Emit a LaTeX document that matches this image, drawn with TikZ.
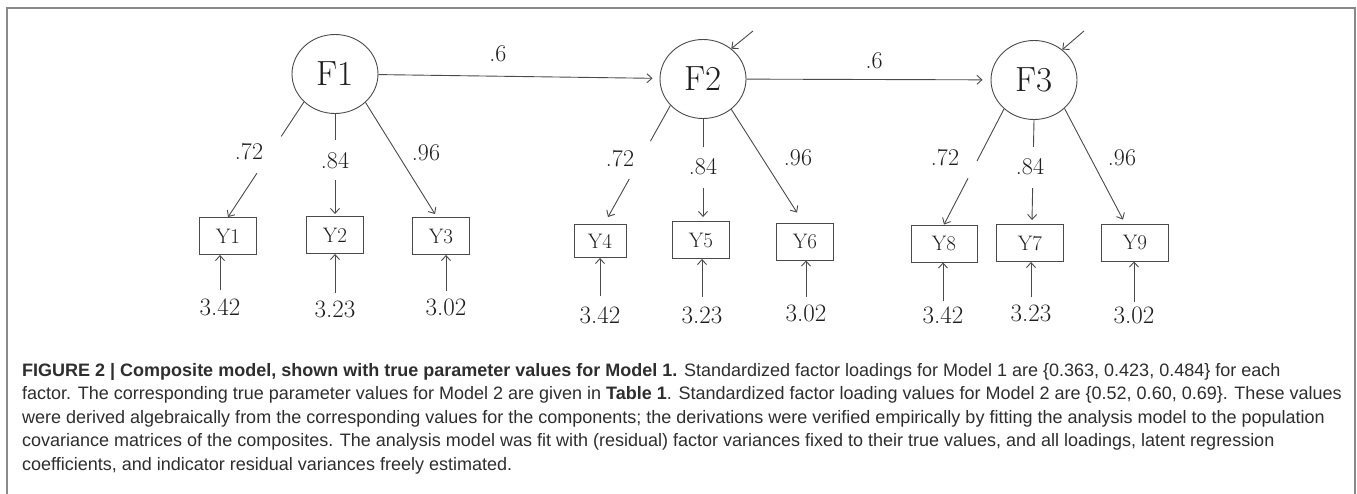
\documentclass[tikz,border=0pt]{standalone}
\usepackage{fontspec}
\newfontfamily\capfont{Liberation Sans}
\usetikzlibrary{shapes.geometric,arrows.meta,calc}
\definecolor{linec}{HTML}{4A4A4A}
\definecolor{textc}{HTML}{1E1E1E}
\definecolor{framec}{HTML}{8A8A8A}
\definecolor{capc}{HTML}{2E2E2E}
\tikzset{
 lat/.style={ellipse, draw=linec, line width=0.9pt, minimum width=86pt, minimum height=79pt, inner sep=0pt, font=\fontsize{35}{40}\selectfont, text=textc},
 obs/.style={rectangle, draw=linec, line width=0.9pt, minimum width=57pt, minimum height=37pt, inner sep=0pt, font=\fontsize{21}{24}\selectfont, text=textc},
 lab/.style={inner sep=0pt, font=\fontsize{24}{28}\selectfont, text=textc},
 num/.style={inner sep=0pt, outer sep=8pt, font=\fontsize{25}{29}\selectfont, text=textc},
 conn/.style={draw=linec, line width=0.9pt},
 arr/.style={conn, -{Straight Barb[length=5pt,width=9pt]}},
 capline/.style={anchor=base west, inner sep=0pt, font=\capfont\fontsize{18}{22}\selectfont, text=capc},
}
\begin{document}
\begin{tikzpicture}[x=1pt,y=-1pt]
\useasboundingbox (0,0) rectangle (1357,494);
\fill[white] (0,0) rectangle (1357,494);
% frame
\draw[framec, line width=1.3pt] (7,494) -- (7,8) -- (1355,8) -- (1355,494);

% latent factors
\node[lat] (F1) at (335,74) {F1};
\node[lat] (F2) at (703,79) {F2};
\node[lat] (F3) at (1034,80) {F3};

% indicators
\node[obs] (Y1) at (228,236) {Y1};
\node[obs] (Y2) at (335,235) {Y2};
\node[obs] (Y3) at (441,236) {Y3};
\node[obs, minimum width=52pt, minimum height=33pt] (Y4) at (600,241) {Y4};
\node[obs] (Y5) at (701,240) {Y5};
\node[obs] (Y6) at (805,241.5) {Y6};
\node[obs, minimum width=66pt] (Y8) at (944,243.5) {Y8};
\node[obs, minimum width=67pt] (Y7) at (1030,243) {Y7};
\node[obs, minimum width=67pt] (Y9) at (1135,242.5) {Y9};

% regressions
\draw[arr, shorten >=7pt] (F1) -- (F2);
\draw[arr, shorten >=8pt] (F2) -- (F3);
\node[lab] (b12) at (498,54) {.6};
\node[lab] (b23) at (874,61) {.6};

% residuals of factors
\coordinate (r2) at (753,31);
\coordinate (r3) at (1084,31);
\draw[arr] (r2) -- (F2.47);
\draw[arr] (r3) -- (F3.47);

% loadings F1
\coordinate (s11) at (F1.222); \coordinate (t11) at (Y1.north);
\draw[conn] (s11) -- ($(s11)!0.30!(t11)$);
\draw[arr] ($(s11)!0.62!(t11)$) -- (t11);
\node[lab] (l11) at (249,152) {.72};
\coordinate (s12) at (F1.south); \coordinate (t12) at ($(Y2.north)+(0,-2)$);
\draw[conn] (s12) -- ($(s12)!0.26!(t12)$);
\draw[arr] ($(s12)!0.66!(t12)$) -- (t12);
\node[lab] (l12) at (335,161) {.84};
\coordinate (s13) at (F1.317); \coordinate (t13) at ($(Y3.north)+(-6,-3)$);
\draw[arr] (s13) -- (t13);
\node[lab] (l13) at (426,153) {.96};

% loadings F2
\coordinate (s24) at (F2.219); \coordinate (t24) at ($(Y4.north)+(8,-7)$);
\draw[conn] (s24) -- ($(s24)!0.32!(t24)$);
\draw[arr] ($(s24)!0.66!(t24)$) -- (t24);
\node[lab] (l24) at (620,159) {.72};
\coordinate (s25) at (F2.south); \coordinate (t25) at ($(Y5.north)+(2,-4)$);
\draw[conn] (s25) -- ($(s25)!0.29!(t25)$);
\draw[arr] ($(s25)!0.70!(t25)$) -- (t25);
\node[lab] (l25) at (703,167) {.84};
\coordinate (s26) at (F2.313); \coordinate (t26) at ($(Y6.north)+(-8,-10)$);
\draw[arr] (s26) -- (t26);
\node[lab] (l26) at (798,158) {.96};

% loadings F3
\coordinate (s38) at (F3.224); \coordinate (t38) at (Y8.north);
\draw[conn] (s38) -- ($(s38)!0.45!(t38)$);
\draw[arr] ($(s38)!0.60!(t38)$) -- (t38);
\node[lab] (l38) at (945,158) {.72};
\coordinate (s37) at (F3.south); \coordinate (t37) at ($(Y7.north)+(2,-4)$);
\draw[conn] (s37) -- ($(s37)!0.27!(t37)$);
\draw[arr] ($(s37)!0.68!(t37)$) -- (t37);
\node[lab] (l37) at (1030,167) {.84};
\coordinate (s39) at (F3.317); \coordinate (t39) at ($(Y9.north)+(-12,-4)$);
\draw[arr] (s39) -- (t39);
\node[lab] (l39) at (1122,158) {.96};

% indicator residuals
\node[num] (e1) at (220,307) {3.42};
\node[num] (e2) at (335,309) {3.23};
\node[num] (e3) at (446,307) {3.02};
\node[num, outer sep=10pt] (e4) at (600,315) {3.42};
\node[num, outer sep=10pt] (e5) at (702,315) {3.23};
\node[num, outer sep=8pt] (e6) at (806,313) {3.02};
\node[num, outer sep=5pt] (e8) at (943,315) {3.42};
\node[num, outer sep=8pt] (e7) at (1031,313) {3.23};
\node[num, outer sep=5pt] (e9) at (1134,315) {3.02};
\draw[arr] (e1.north) -- (e1.north |- Y1.south);
\draw[arr] (e2.north) -- (e2.north |- Y2.south);
\draw[arr] (e3.north) -- (e3.north |- Y3.south);
\draw[arr] (e4.north) -- (e4.north |- Y4.south);
\draw[arr] (e5.north) -- (e5.north |- Y5.south);
\draw[arr] (e6.north) -- (e6.north |- Y6.south);
\draw[arr] (e8.north) -- (e8.north |- Y8.south);
\draw[arr] (e7.north) -- (e7.north |- Y7.south);
\draw[arr] (e9.north) -- (e9.north |- Y9.south);

% caption
\node[capline] (c1) at (22,376) {\textbf{FIGURE 2 | Composite model, shown with true parameter values for Model 1.} Standardized factor loadings for Model 1 are \{0.363, 0.423, 0.484\} for each};
\node[capline] (c2) at (22,399.5) {factor. The corresponding true parameter values for Model 2 are given in \textbf{Table 1}. Standardized factor loading values for Model 2 are \{0.52, 0.60, 0.69\}. These values};
\node[capline] (c3) at (22,423) {were derived algebraically from the corresponding values for the components; the derivations were verified empirically by fitting the analysis model to the population};
\node[capline] (c4) at (22,446.5) {covariance matrices of the composites. The analysis model was fit with (residual) factor variances fixed to their true values, and all loadings, latent regression};
\node[capline] (c5) at (22,470) {coefficients, and indicator residual variances freely estimated.};
\end{tikzpicture}
\end{document}
